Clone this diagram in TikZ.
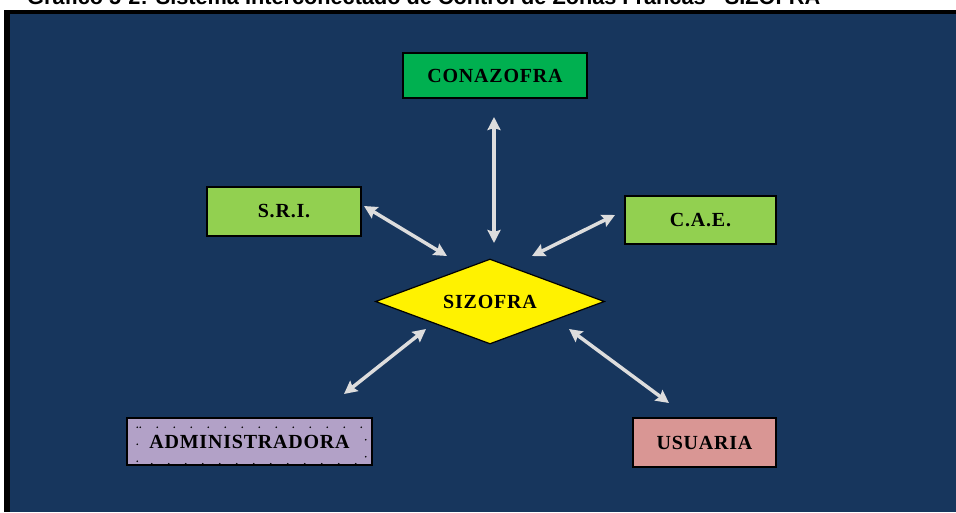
\documentclass[tikz,border=0pt]{standalone}
\usepackage{fontspec}
\setmainfont{Liberation Serif}
\newfontfamily\titlefont{Liberation Sans}
\newfontfamily\labfont[LetterSpace=4]{Liberation Serif}
\usetikzlibrary{arrows.meta,shapes.geometric}
\definecolor{navy}{RGB}{23,54,93}
\definecolor{darkgreen}{RGB}{0,176,80}
\definecolor{lightgreen}{RGB}{146,208,80}
\definecolor{lavender}{RGB}{178,161,199}
\definecolor{rosebox}{RGB}{217,150,148}
\definecolor{arrowgray}{RGB}{221,221,221}
\begin{document}
\begin{tikzpicture}[x=1pt,y=-1pt,
  box/.style={draw=black,line width=1.5pt,inner sep=0pt,
    font=\labfont\bfseries\fontsize{20}{22}\selectfont},
  conn/.style={draw=arrowgray,line width=3.5pt,
    {Stealth[length=13pt,width=13pt,inset=2pt]}-{Stealth[length=13pt,width=13pt,inset=2pt]}}]
\useasboundingbox (0,0) rectangle (956,512);
\clip (0,0) rectangle (956,512);
\fill[white] (0,0) rectangle (956,512);
\fill[black] (4,10) rectangle (956,512);
\fill[navy] (10,14) rectangle (956,512);
\node[anchor=base west,inner sep=0pt,
  font=\titlefont\bfseries\fontsize{21.7}{24}\selectfont] (title) at (27,4)
  {Gráfico 5-2: Sistema Interconectado de Control de Zonas Francas - SIZOFRA};
% boxes
\node[box,fill=darkgreen,minimum width=184pt,minimum height=45pt] (conaz) at (495,75.5) {CONAZOFRA};
\node[box,fill=lightgreen,minimum width=154pt,minimum height=49pt] (sri) at (284,211.5) {S.R.I.};
\node[box,fill=lightgreen,minimum width=151pt,minimum height=48pt] (cae) at (700.5,220) {C.A.E.};
\node[box,fill=lavender,minimum width=245pt,minimum height=47pt] (adm) at (249.5,441.5) {ADMINISTRADORA};
\node[box,fill=rosebox,minimum width=143pt,minimum height=49pt] (usu) at (704.5,442.5) {USUARIA};
\node[diamond,draw=black,line width=1.2pt,fill=yellow,inner sep=0pt,aspect=2.7,
  minimum width=229pt,minimum height=85pt,
  font=\labfont\bfseries\fontsize{20}{22}\selectfont] (siz) at (490,301.5) {SIZOFRA};
\draw[black,line width=1.8pt,line cap=round,dash pattern=on 0pt off 17pt]
  ([shift={(11,10)}]adm.north west) rectangle ([shift={(-7,-2)}]adm.south east);
% arrow end points
\coordinate (conazA) at (494,117);
\coordinate (conazB) at (494,243);
\coordinate (sriA) at (364,206);
\coordinate (sriB) at (447,256);
\coordinate (caeA) at (615,215);
\coordinate (caeB) at (532,256);
\coordinate (admA) at (426,329);
\coordinate (admB) at (344,394);
\coordinate (usuA) at (569,329);
\coordinate (usuB) at (669,403);
\draw[conn] (conazA) -- (conazB);
\draw[conn] (sriA) -- (sriB);
\draw[conn] (caeA) -- (caeB);
\draw[conn] (admA) -- (admB);
\draw[conn] (usuA) -- (usuB);
\end{tikzpicture}
\end{document}
